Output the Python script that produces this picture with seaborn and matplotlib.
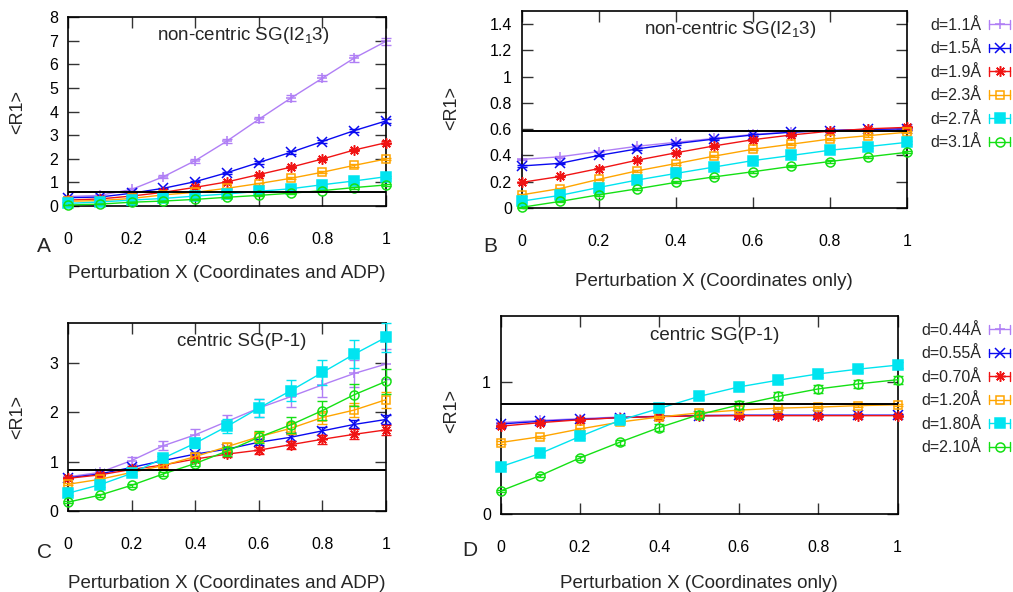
import numpy as np
import pandas as pd
import matplotlib
matplotlib.use("Agg")
import matplotlib.pyplot as plt
from matplotlib.lines import Line2D
from matplotlib.legend_handler import HandlerLine2D
import seaborn as sns

# ---------------------------------------------------------------- data
perturbation = [0.0, 0.1, 0.2, 0.3, 0.4, 0.5, 0.6, 0.7, 0.8, 0.9, 1.0]

# Panel A: non-centric SG(I2_13), coordinates and ADP perturbed
a_labels = ["d=1.1Å", "d=1.5Å", "d=1.9Å", "d=2.3Å", "d=2.7Å", "d=3.1Å"]
a_d11 = [0.40, 0.45, 0.70, 1.24, 1.92, 2.75, 3.67, 4.56, 5.41, 6.26, 6.97]
a_d15 = [0.35, 0.38, 0.54, 0.75, 1.03, 1.41, 1.84, 2.27, 2.73, 3.19, 3.60]
a_d19 = [0.25, 0.30, 0.42, 0.58, 0.79, 1.02, 1.33, 1.64, 1.99, 2.37, 2.68]
a_d23 = [0.20, 0.23, 0.32, 0.47, 0.58, 0.75, 0.95, 1.17, 1.43, 1.72, 1.99]
a_d27 = [0.11, 0.17, 0.25, 0.32, 0.42, 0.51, 0.62, 0.73, 0.90, 1.06, 1.24]
a_d31 = [0.04, 0.08, 0.16, 0.21, 0.28, 0.37, 0.45, 0.54, 0.65, 0.78, 0.89]
a_e11 = [0.03, 0.03, 0.05, 0.06, 0.08, 0.09, 0.11, 0.12, 0.14, 0.15, 0.16]
a_e15 = [0.02, 0.02, 0.02, 0.03, 0.03, 0.04, 0.05, 0.05, 0.06, 0.07, 0.08]
a_e19 = [0.02, 0.02, 0.02, 0.03, 0.03, 0.04, 0.04, 0.05, 0.05, 0.06, 0.07]
a_e23 = [0.02, 0.02, 0.02, 0.02, 0.03, 0.03, 0.04, 0.04, 0.05, 0.05, 0.06]
a_e27 = [0.02, 0.02, 0.02, 0.02, 0.02, 0.03, 0.03, 0.03, 0.04, 0.04, 0.05]
a_e31 = [0.01, 0.01, 0.02, 0.02, 0.02, 0.02, 0.03, 0.03, 0.03, 0.04, 0.04]
a_ref = 0.59

# Panel B: non-centric SG(I2_13), coordinates only
b_d11 = [0.370, 0.390, 0.430, 0.470, 0.500, 0.530, 0.560, 0.580, 0.590, 0.600, 0.602]
b_d15 = [0.320, 0.340, 0.400, 0.450, 0.490, 0.525, 0.556, 0.577, 0.590, 0.598, 0.603]
b_d19 = [0.195, 0.240, 0.300, 0.364, 0.420, 0.473, 0.520, 0.556, 0.585, 0.603, 0.614]
b_d23 = [0.100, 0.148, 0.218, 0.283, 0.338, 0.395, 0.447, 0.486, 0.525, 0.551, 0.577]
b_d27 = [0.052, 0.096, 0.156, 0.213, 0.263, 0.312, 0.361, 0.400, 0.440, 0.468, 0.500]
b_d31 = [0.005, 0.050, 0.100, 0.146, 0.195, 0.237, 0.276, 0.317, 0.354, 0.390, 0.424]
b_err = [0.006, 0.006, 0.006, 0.007, 0.007, 0.007, 0.008, 0.008, 0.008, 0.009, 0.009]
b_ref = 0.59

# Panel C: centric SG(P-1), coordinates and ADP perturbed
c_labels = ["d=0.44Å", "d=0.55Å", "d=0.70Å", "d=1.20Å", "d=1.80Å", "d=2.10Å"]
c_d044 = [0.69, 0.78, 1.02, 1.32, 1.54, 1.81, 2.08, 2.31, 2.55, 2.78, 2.97]
c_d055 = [0.67, 0.75, 0.88, 1.02, 1.15, 1.25, 1.39, 1.49, 1.62, 1.75, 1.85]
c_d070 = [0.66, 0.73, 0.84, 0.93, 1.05, 1.15, 1.23, 1.34, 1.45, 1.55, 1.64]
c_d120 = [0.54, 0.64, 0.78, 0.92, 1.10, 1.30, 1.50, 1.67, 1.89, 2.04, 2.25]
c_d180 = [0.36, 0.53, 0.76, 1.07, 1.37, 1.71, 2.08, 2.43, 2.80, 3.17, 3.51]
c_d210 = [0.18, 0.32, 0.52, 0.75, 0.96, 1.21, 1.49, 1.74, 2.03, 2.35, 2.62]
c_e044 = [0.03, 0.04, 0.07, 0.09, 0.11, 0.14, 0.18, 0.20, 0.25, 0.28, 0.30]
c_e055 = [0.02, 0.02, 0.03, 0.04, 0.05, 0.05, 0.06, 0.07, 0.08, 0.08, 0.09]
c_e070 = [0.02, 0.03, 0.03, 0.04, 0.05, 0.06, 0.07, 0.08, 0.09, 0.10, 0.10]
c_e120 = [0.02, 0.03, 0.04, 0.05, 0.07, 0.08, 0.10, 0.12, 0.13, 0.14, 0.16]
c_e180 = [0.03, 0.04, 0.05, 0.08, 0.10, 0.14, 0.18, 0.21, 0.26, 0.28, 0.30]
c_e210 = [0.02, 0.03, 0.03, 0.04, 0.06, 0.09, 0.12, 0.16, 0.20, 0.22, 0.25]
c_ref = 0.83

# Panel D: centric SG(P-1), coordinates only
d_d044 = [0.690, 0.707, 0.720, 0.733, 0.738, 0.746, 0.746, 0.746, 0.746, 0.746, 0.746]
d_d055 = [0.680, 0.700, 0.715, 0.728, 0.738, 0.743, 0.746, 0.746, 0.746, 0.746, 0.746]
d_d070 = [0.663, 0.690, 0.712, 0.728, 0.736, 0.741, 0.743, 0.743, 0.743, 0.743, 0.743]
d_d120 = [0.539, 0.583, 0.642, 0.694, 0.733, 0.764, 0.785, 0.800, 0.808, 0.819, 0.826]
d_d180 = [0.355, 0.456, 0.585, 0.707, 0.798, 0.889, 0.961, 1.013, 1.060, 1.096, 1.127]
d_d210 = [0.171, 0.288, 0.422, 0.541, 0.653, 0.751, 0.824, 0.889, 0.946, 0.984, 1.016]
d_e_small = [0.008, 0.008, 0.008, 0.008, 0.008, 0.008, 0.008, 0.008, 0.008, 0.008, 0.008]
d_e180 = [0.010, 0.012, 0.012, 0.015, 0.018, 0.020, 0.022, 0.022, 0.022, 0.022, 0.022]
d_e210 = [0.010, 0.012, 0.015, 0.020, 0.025, 0.025, 0.030, 0.030, 0.030, 0.030, 0.030]
d_ref = 0.83

x_ticks = [0.0, 0.2, 0.4, 0.6, 0.8, 1.0]
x_tick_labels = ["0", "0.2", "0.4", "0.6", "0.8", "1"]
a_y_ticks = [0, 1, 2, 3, 4, 5, 6, 7, 8]
b_y_ticks = [0.0, 0.2, 0.4, 0.6, 0.8, 1.0, 1.2, 1.4]
b_y_tick_labels = ["0", "0.2", "0.4", "0.6", "0.8", "1", "1.2", "1.4"]
c_y_ticks = [0, 1, 2, 3]
d_y_ticks = [0, 1]

# ---------------------------------------------------------------- style
colors = ["#b07ff5", "#0a0af0", "#f01414", "#ffa500", "#00e4f0", "#14e014"]
markers = ["+", "x", (8, 2, 0), "s", "s", "o"]
filled = [True, True, True, False, True, False]
msizes = [7.5, 6.5, 7.5, 6, 6.5, 6.5]

sns.set_theme(style="ticks")
plt.rcParams["font.family"] = ["Liberation Sans", "DejaVu Sans"]
plt.rcParams["mathtext.fontset"] = "custom"
plt.rcParams["mathtext.rm"] = "Liberation Sans"
plt.rcParams["mathtext.it"] = "Liberation Sans:italic"
FS_TICK = 11.5
FS_LEG = 11.5
FS_LABEL = 13.5
FS_TITLE = 13.5
FS_YLAB = 13
FS_LETTER = 15

W, H = 1013, 592
fig = plt.figure(figsize=(W / 100, H / 100), dpi=100)
fig.patch.set_facecolor("white")


def fx(px):
    return px / W


def fy(py):
    return 1 - py / H


def make_axes(left, top, right, bottom):
    return fig.add_axes([fx(left), fy(bottom), fx(right) - fx(left), fy(top) - fy(bottom)])


class CappedHandler(HandlerLine2D):
    """Legend sample drawn as a horizontal error bar with end caps."""

    def create_artists(self, legend, orig_handle, xdescent, ydescent,
                       width, height, fontsize, trans):
        arts = super().create_artists(legend, orig_handle, xdescent, ydescent,
                                      width, height, fontsize, trans)
        y = height / 2 - ydescent
        h = 0.27 * fontsize
        for x in (-xdescent, -xdescent + width):
            cap = Line2D([x, x], [y - h, y + h], color=orig_handle.get_color(), lw=1.0)
            cap.set_transform(trans)
            arts.append(cap)
        return arts


def draw_panel(ax, series, errors, ref, ylim, yticks, yticklabels):
    df = pd.DataFrame({"X": perturbation})
    for i, (vals, errs) in enumerate(zip(series, errors)):
        df["R1"] = vals
        sns.lineplot(data=df, x="X", y="R1", color=colors[i], lw=1.0,
                     ax=ax, legend=False, zorder=2 + i)
        ax.errorbar(df["X"], df["R1"], yerr=errs, fmt="none", ecolor=colors[i],
                    elinewidth=1.0, capsize=3.6, capthick=1.0, zorder=2 + i,
                    clip_on=False)
        ax.plot(df["X"], df["R1"], ls="none", marker=markers[i], ms=msizes[i],
                color=colors[i], mfc=colors[i] if filled[i] else "none",
                mew=1.1, zorder=2 + i, clip_on=False)
    ax.axhline(ref, color="black", lw=1.4, zorder=20)
    ax.set_xlim(0, 1)
    ax.set_ylim(*ylim)
    ax.set_xticks(x_ticks)
    ax.set_xticklabels(x_tick_labels)
    ax.set_yticks(yticks)
    ax.set_yticklabels(yticklabels)
    ax.tick_params(axis="both", direction="in", length=8, width=1.0,
                   color="#333333", top=True, right=True, labelsize=FS_TICK,
                   labelcolor="black")
    ax.tick_params(axis="x", pad=19)
    ax.tick_params(axis="y", pad=7)
    for sp in ax.spines.values():
        sp.set_visible(True)
        sp.set_color("black")
        sp.set_linewidth(1.2)
    ax.set_facecolor("white")


def set_labels(ax, xlabel, xl_pos, yl_pos):
    ax.set_xlabel(xlabel, fontsize=FS_LABEL)
    ax.xaxis.set_label_coords(fx(xl_pos[0]), fy(xl_pos[1]), transform=fig.transFigure)
    ax.xaxis.label.set_verticalalignment("center")
    ax.set_ylabel("<R1>", fontsize=FS_YLAB)
    ax.yaxis.set_label_coords(fx(yl_pos[0]), fy(yl_pos[1]), transform=fig.transFigure)
    ax.yaxis.label.set_verticalalignment("center")


def add_legend(ax, labels, right, top):
    handles = [Line2D([], [], color=colors[i], lw=1.0, marker=markers[i],
                      ms=msizes[i], mew=1.1,
                      mfc=colors[i] if filled[i] else "none")
               for i in range(len(labels))]
    ax.legend(handles, labels, loc="upper right",
              bbox_to_anchor=(fx(right), fy(top)), bbox_transform=fig.transFigure,
              frameon=False, fontsize=FS_LEG, markerfirst=False, handlelength=1.3,
              handletextpad=0.5, labelspacing=0.53, borderpad=0, borderaxespad=0,
              handler_map={Line2D: CappedHandler(numpoints=1)})


# ---------------------------------------------------------------- panel A
ax_a = make_axes(68, 17, 386, 206)
draw_panel(ax_a, [a_d11, a_d15, a_d19, a_d23, a_d27, a_d31],
           [a_e11, a_e15, a_e19, a_e23, a_e27, a_e31], a_ref, (0, 8),
           a_y_ticks, [str(t) for t in a_y_ticks])
set_labels(ax_a, "Perturbation X (Coordinates and ADP)", (227, 274), (18, 112))
fig.text(fx(243), fy(35), r"non-centric SG(I2$_{\mathrm{1}}$3)", fontsize=FS_TITLE,
         ha="center", va="center")
fig.text(fx(44), fy(247), "A", fontsize=FS_LETTER, ha="center", va="center")

# ---------------------------------------------------------------- panel B
ax_b = make_axes(521.5, 11, 907, 208)
draw_panel(ax_b, [b_d11, b_d15, b_d19, b_d23, b_d27, b_d31],
           [b_err] * 6, b_ref, (0, 1.5), b_y_ticks, b_y_tick_labels)
set_labels(ax_b, "Perturbation X (Coordinates only)", (714, 281), (452, 108))
fig.text(fx(730), fy(30), r"non-centric SG(I2$_{\mathrm{1}}$3)", fontsize=FS_TITLE,
         ha="center", va="center")
fig.text(fx(490), fy(247), "B", fontsize=FS_LETTER, ha="center", va="center")
add_legend(ax_b, a_labels, 1010, 18)

# ---------------------------------------------------------------- panel C
ax_c = make_axes(68, 323, 386, 511)
draw_panel(ax_c, [c_d044, c_d055, c_d070, c_d120, c_d180, c_d210],
           [c_e044, c_e055, c_e070, c_e120, c_e180, c_e210], c_ref, (0, 3.8),
           c_y_ticks, [str(t) for t in c_y_ticks])
set_labels(ax_c, "Perturbation X (Coordinates and ADP)", (227, 583), (18, 417))
fig.text(fx(242), fy(341), "centric SG(P-1)", fontsize=FS_TITLE, ha="center", va="center")
fig.text(fx(44), fy(552), "C", fontsize=FS_LETTER, ha="center", va="center")

# ---------------------------------------------------------------- panel D
ax_d = make_axes(500.5, 316, 897.5, 513.5)
draw_panel(ax_d, [d_d044, d_d055, d_d070, d_d120, d_d180, d_d210],
           [d_e_small, d_e_small, d_e_small, d_e_small, d_e180, d_e210], d_ref,
           (0, 1.5), d_y_ticks, [str(t) for t in d_y_ticks])
set_labels(ax_d, "Perturbation X (Coordinates only)", (699, 584), (452, 411))
fig.text(fx(715), fy(336), "centric SG(P-1)", fontsize=FS_TITLE, ha="center", va="center")
fig.text(fx(470), fy(551), "D", fontsize=FS_LETTER, ha="center", va="center")
add_legend(ax_d, c_labels, 1010, 323)

fig.savefig("out.png", dpi=100, facecolor="white")
